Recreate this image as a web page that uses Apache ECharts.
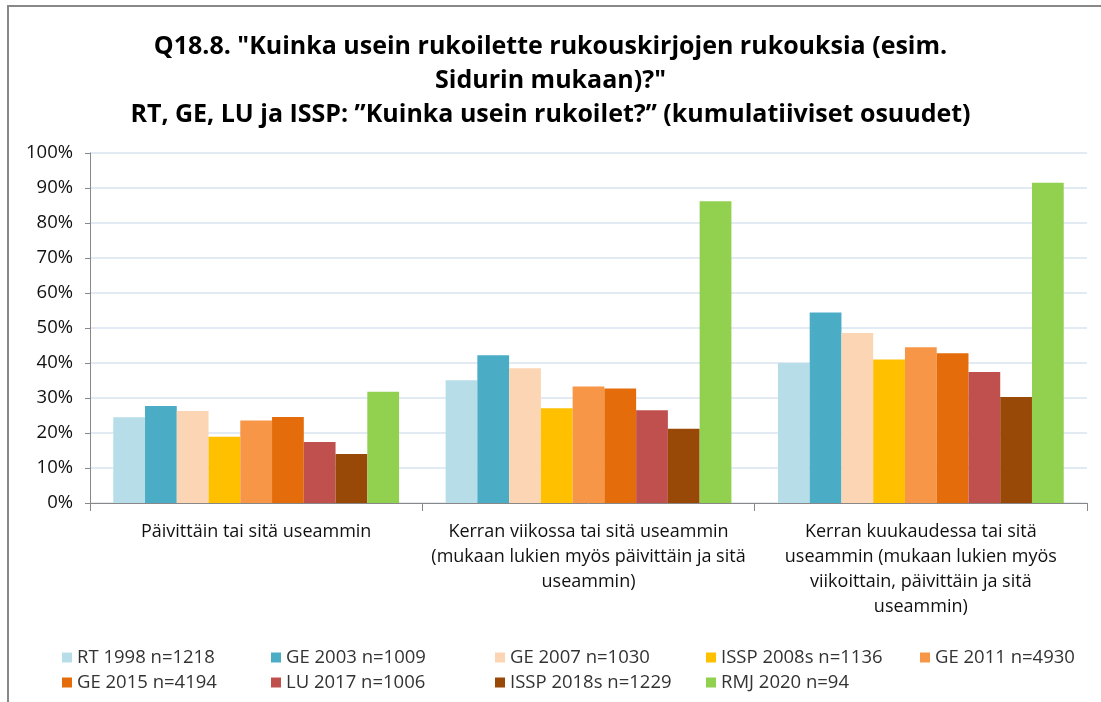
<!DOCTYPE html>
<html>
<head>
<meta charset="utf-8">
<script src="https://cdn.jsdelivr.net/npm/echarts@6/dist/echarts.min.js"></script>
<style>
  html, body { margin: 0; padding: 0; background: #fff; }
  #chart { width: 1101px; height: 702px; }
</style>
</head>
<body>
<div id="chart"></div>
<script>
var categories = [
  'Päivittäin tai sitä useammin',
  'Kerran viikossa tai sitä useammin\n(mukaan lukien myös päivittäin ja sitä\nuseammin)',
  'Kerran kuukaudessa tai sitä\nuseammin (mukaan lukien myös\nviikoittain, päivittäin ja sitä\nuseammin)'
];
var seriesNames = ['RT 1998 n=1218', 'GE 2003 n=1009', 'GE 2007 n=1030', 'ISSP 2008s n=1136', 'GE 2011 n=4930',
  'GE 2015 n=4194', 'LU 2017 n=1006', 'ISSP 2018s n=1229', 'RMJ 2020 n=94'];
var colors = ['#B7DEE8', '#4BACC6', '#FCD5B5', '#FFC000', '#F79646', '#E46C0A', '#C0504D', '#984807', '#92D050'];
var rt1998 = [24.5, 35.1, 40.0];
var ge2003 = [27.7, 42.2, 54.4];
var ge2007 = [26.3, 38.5, 48.6];
var issp2008 = [18.9, 27.1, 41.0];
var ge2011 = [23.6, 33.3, 44.5];
var ge2015 = [24.6, 32.7, 42.8];
var lu2017 = [17.4, 26.5, 37.4];
var issp2018 = [14.0, 21.2, 30.3];
var rmj2020 = [31.8, 86.2, 91.5];
var values = [rt1998, ge2003, ge2007, issp2008, ge2011, ge2015, lu2017, issp2018, rmj2020];

var font = 'Open Sans';
var chart = echarts.init(document.getElementById('chart'));

var series = [];
for (var i = 0; i < seriesNames.length; i++) {
  series.push({
    name: seriesNames[i],
    type: 'bar',
    data: values[i],
    barGap: 0,
    barCategoryGap: '14%',
    itemStyle: { color: colors[i] }
  });
}

// legend laid out as a 5-column grid: one vertical legend per column
var legendCols = [62, 271, 495, 706, 920];
var legends = legendCols.map(function (x, c) {
  var names = [seriesNames[c]];
  if (seriesNames[c + 5]) names.push(seriesNames[c + 5]);
  return {
    data: names,
    orient: 'vertical',
    left: x - 5,
    top: 643,
    itemWidth: 10,
    itemHeight: 10,
    itemGap: 6,
    icon: 'rect',
    textStyle: { fontFamily: font, fontSize: 18.5, color: '#333' }
  };
});

var option = {
  animation: false,
  color: colors,
  title: {
    text: 'Q18.8. "Kuinka usein rukoilette rukouskirjojen rukouksia (esim.\nSidurin mukaan)?"\nRT, GE, LU ja ISSP: \u201dKuinka usein rukoilet?\u201d (kumulatiiviset osuudet)',
    left: 'center',
    top: 25,
    textStyle: {
      fontFamily: font,
      fontWeight: 'bold',
      fontSize: 25,
      lineHeight: 34,
      color: '#000'
    }
  },
  graphic: [{
    type: 'rect',
    shape: { x: 8, y: 6, width: 1200, height: 800 },
    style: { fill: 'none', stroke: '#888', lineWidth: 2 },
    silent: true
  }],
  grid: {
    left: 90,
    right: 14,
    top: 153,
    bottom: 199
  },
  legend: legends,
  xAxis: {
    type: 'category',
    data: categories,
    axisLine: { lineStyle: { color: '#888' } },
    axisTick: { show: true, length: 8, lineStyle: { color: '#888' } },
    axisLabel: {
      fontFamily: font,
      fontSize: 18,
      color: '#111',
      lineHeight: 25,
      margin: 16,
      interval: 0
    }
  },
  yAxis: {
    type: 'value',
    min: 0,
    max: 100,
    interval: 10,
    axisLine: { show: true, lineStyle: { color: '#888' } },
    axisTick: { show: true, length: 5, lineStyle: { color: '#888' } },
    splitLine: { lineStyle: { color: '#D9E3F0', width: 1.5 } },
    axisLabel: {
      fontFamily: font,
      fontSize: 18.5,
      color: '#111',
      margin: 17,
      formatter: '{value}%'
    }
  },
  series: series
};

chart.setOption(option);
window.addEventListener('resize', function () {
  chart.resize();
});
</script>
</body>
</html>
